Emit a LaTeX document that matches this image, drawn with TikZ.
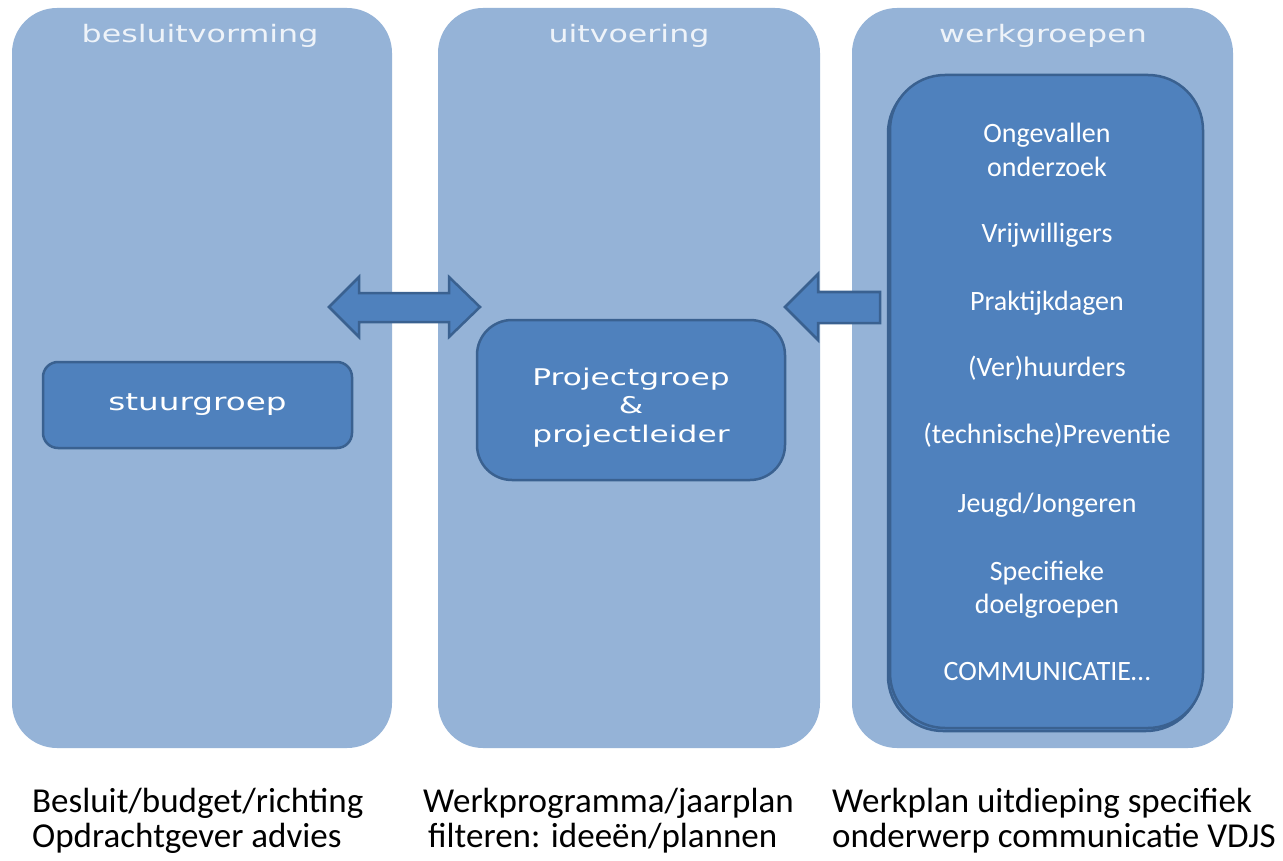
\documentclass[tikz,border=0pt]{standalone}
\usepackage{fontspec}
\setmainfont{Carlito}
\newfontfamily\verd{DejaVu Sans}
\definecolor{colfill}{HTML}{95B3D7}
\definecolor{boxfill}{HTML}{4F81BD}
\definecolor{boxline}{HTML}{3A6190}
\definecolor{headtxt}{HTML}{EEF3F9}
\begin{document}
\begin{tikzpicture}[x=1pt,y=-1pt,
  column/.style={fill=colfill, rounded corners=45pt},
  innerbox/.style={fill=boxfill, draw=boxline, line width=2.5pt},
  blockarrow/.style={fill=boxfill, draw=boxline, line width=2.5pt, line join=miter},
  headtext/.style={text=headtxt, font=\verd\fontsize{24}{26}\selectfont, anchor=base, inner sep=0pt},
  boxtext/.style={text=white, font=\verd\fontsize{23}{28}\selectfont, align=center, anchor=base, inner sep=0pt},
  grouptext/.style={text=white, font=\fontsize{28}{33}\selectfont, anchor=base, align=center, inner sep=0pt},
  bottomtext/.style={font=\fontsize{35}{35}\selectfont, anchor=base west, inner sep=0pt}]
\useasboundingbox (0,0) rectangle (1283,861);
\fill[white] (0,0) rectangle (1283,861);
% columns
\path[column] (12,8) rectangle (392,748);
\path[column] (438,8) rectangle (820,748);
\path[column] (852,8) rectangle (1233,748);
% headers
\node[headtext] (h1) at (200,43) {\scalebox{1.32}[1]{besluitvorming}};
\node[headtext] (h2) at (629,43) {\scalebox{1.32}[1]{uitvoering}};
\node[headtext] (h3) at (1043,43) {\scalebox{1.32}[1]{werkgroepen}};
% stuurgroep
\node[innerbox, rounded corners=15pt, minimum width=309pt, minimum height=86pt, text=white,
      font=\verd\fontsize{24}{26}\selectfont] (stuur) at (197.5,405) {\scalebox{1.36}[1]{stuurgroep}};
% projectgroep
\node[innerbox, rounded corners=35pt, minimum width=308pt, minimum height=160pt] (proj) at (631,400) {};
\node[boxtext] (p1) at (proj.center |- 0,385) {\scalebox{1.36}[1]{Projectgroep}};
\node[boxtext] (p2) at (proj.center |- 0,413) {\scalebox{1.36}[1]{\&}};
\node[boxtext] (p3) at (proj.center |- 0,442) {\scalebox{1.36}[1]{projectleider}};
% werkgroepen box with stacked shadow
\draw[innerbox, rounded corners=55pt] (888,78) rectangle (1201,731);
\draw[innerbox, rounded corners=55pt] (890,75) rectangle (1203,728);
\node[grouptext] (g1) at (1047,143) {Ongevallen};
\node[grouptext] (g1b) at (1047,177) {onderzoek};
\node[grouptext] (g2) at (1047,243) {Vrijwilligers};
\node[grouptext] (g3) at (1047,310) {Praktijkdagen};
\node[grouptext] (g4) at (1047,376) {(Ver)huurders};
\node[grouptext] (g5) at (1047,443) {(technische)Preventie};
\node[grouptext] (g6) at (1047,512) {Jeugd/Jongeren};
\node[grouptext] (g7) at (1047,580) {Specifieke};
\node[grouptext] (g7b) at (1047,613) {doelgroepen};
\node[grouptext] (g8) at (1047,680) {COMMUNICATIE…};
% block arrows
\draw[blockarrow] (329,307) -- (359,277) -- (359,293) -- (449,293) -- (449,277) -- (480,307)
  -- (449,337) -- (449,322) -- (359,322) -- (359,337) -- cycle;
\draw[blockarrow] (785,307) -- (818,274) -- (818,292) -- (880,292) -- (880,323) -- (818,323)
  -- (818,340) -- cycle;
% bottom texts
\node[bottomtext] (b1) at (32,812) {Besluit/budget/richting};
\node[bottomtext] (b2) at (32,847) {Opdrachtgever advies};
\node[bottomtext] (c1) at (423,812) {Werkprogramma/jaarplan};
\node[bottomtext] (c2) at (428,847) {filteren: ideeën/plannen};
\node[bottomtext] (d1) at (832,812) {Werkplan uitdieping specifiek};
\node[bottomtext] (d2) at (832,847) {onderwerp communicatie VDJS};
\end{tikzpicture}
\end{document}
